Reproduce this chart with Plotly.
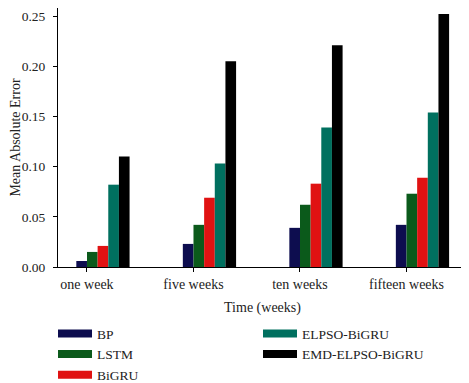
import plotly.graph_objects as go

categories = ["one week", "five weeks", "ten weeks", "fifteen weeks"]
series_names = ["BP", "LSTM", "BiGRU", "ELPSO-BiGRU", "EMD-ELPSO-BiGRU"]
bp = [0.006, 0.023, 0.039, 0.042]
lstm = [0.015, 0.042, 0.062, 0.073]
bigru = [0.021, 0.069, 0.083, 0.089]
elpso_bigru = [0.082, 0.103, 0.139, 0.154]
emd_elpso_bigru = [0.110, 0.205, 0.221, 0.252]
y_ticks = [0.00, 0.05, 0.10, 0.15, 0.20, 0.25]

series_values = [bp, lstm, bigru, elpso_bigru, emd_elpso_bigru]
colors = ["#0d0d4f", "#0b5a1b", "#e01212", "#00705f", "#000000"]

FONT = "Liberation Serif, DejaVu Serif, serif"
TXT = "#222222"
fig = go.Figure()
bar_w = 0.1
for k, (name, vals, col) in enumerate(zip(series_names, series_values, colors)):
    fig.add_trace(go.Bar(
        x=categories, y=vals, name=name, marker=dict(color=col, line=dict(width=0)),
        width=bar_w, offset=(k - 1) * bar_w, showlegend=False,
    ))
    # legend-only swatch entry (no data drawn)
    fig.add_trace(go.Scatter(
        x=[None], y=[None], mode="lines", name=name,
        line=dict(color=col, width=8),
        legend="legend" if k < 3 else "legend2",
    ))

axis_common = dict(showline=True, linecolor="#000000", linewidth=1, mirror=True,
                   ticks="outside", ticklen=4, tickcolor="#000000", showgrid=False,
                   zeroline=False, automargin=False)
leg_common = dict(xanchor="left", yanchor="top", orientation="v", itemwidth=34,
                  tracegroupgap=0, font=dict(family=FONT, size=13.5, color=TXT),
                  bgcolor="rgba(0,0,0,0)")
fig.update_layout(
    width=469, height=383,
    margin=dict(l=50, r=10, t=0, b=124, autoexpand=False),
    plot_bgcolor="white", paper_bgcolor="white",
    barmode="overlay",
    font=dict(family=FONT, size=14, color=TXT),
    xaxis=dict(axis_common, range=[-0.272, 3.568],
               tickfont=dict(family=FONT, size=14, color=TXT),
               title=dict(text="Time (weeks)", font=dict(family=FONT, size=14, color=TXT), standoff=11)),
    yaxis=dict(axis_common, range=[0, 0.258], tickvals=y_ticks, tickformat=".2f",
               ticklabelstandoff=5,
               tickfont=dict(family=FONT, size=13.5, color=TXT),
               title=dict(text="Mean Absolute Error", font=dict(family=FONT, size=14, color=TXT), standoff=3)),
    legend=dict(leg_common, x=-0.0122, y=-0.198),
    legend2=dict(leg_common, x=0.489, y=-0.198),
)
fig.write_html("out.html")
